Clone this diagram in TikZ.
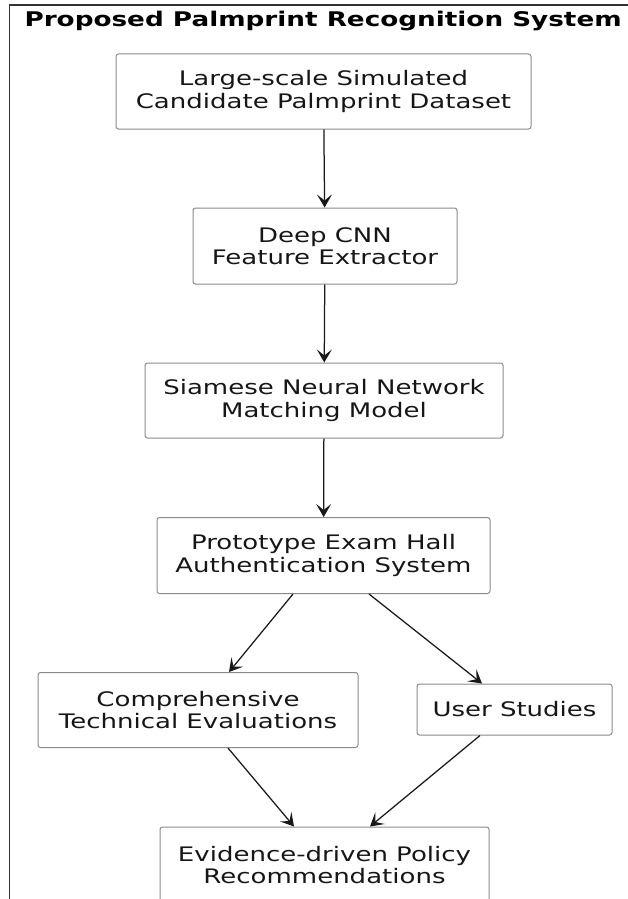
\documentclass[tikz,border=0pt]{standalone}
\usepackage{fontspec}
\setmainfont{DejaVu Sans}[FakeStretch=1.3]
\usetikzlibrary{arrows.meta}
\definecolor{boxgray}{HTML}{8A8A8A}
\definecolor{inkgray}{HTML}{161616}
\begin{document}
\begin{tikzpicture}[x=1pt,y=-1pt,
  every node/.style={font=\fontsize{20}{22.5}\selectfont,text=inkgray},
  stage/.style={draw=boxgray,line width=1pt,rounded corners=2.5pt,align=center,inner sep=0pt},
  flow/.style={-{Stealth[length=13pt,width=15pt,inset=6pt]},line width=1.25pt,black!90}]
\clip (0,0) rectangle (628,899);
\draw[line width=1.4pt,draw=black!80] (9.5,5) rectangle (660,940);
\node[anchor=base west,font=\fontsize{20.2}{24}\selectfont\bfseries,text=black] (title) at (21,27) {Proposed Palmprint Recognition System};
\node[stage,minimum width=415pt,minimum height=75pt] (data) at (323.5,91.5) {Large-scale Simulated\\Candidate Palmprint Dataset};
\node[stage,minimum width=264pt,minimum height=76pt] (cnn) at (325,246) {Deep CNN\\Feature Extractor};
\node[stage,minimum width=358pt,minimum height=75pt] (siam) at (324,400.5) {Siamese Neural Network\\Matching Model};
\node[stage,minimum width=333pt,minimum height=76pt] (proto) at (323.5,555.5) {Prototype Exam Hall\\Authentication System};
\node[stage,minimum width=320pt,minimum height=75pt] (evalu) at (198,710) {Comprehensive\\Technical Evaluations};
\node[stage,minimum width=195pt,minimum height=51pt] (user) at (514.5,709.5) {User Studies};
\node[stage,minimum width=329pt,minimum height=76pt] (policy) at (324.5,865) {Evidence-driven Policy\\Recommendations};
\draw[flow] (data) -- (cnn);
\draw[flow] (cnn) -- (siam);
\draw[flow] (siam) -- (proto);
\draw[flow] ([xshift=-30.5pt]proto.south) -- ([xshift=31pt]evalu.north);
\draw[flow] ([xshift=45.5pt]proto.south) -- ([xshift=-32.5pt]user.north);
\draw[flow] ([xshift=30pt]evalu.south) -- ([xshift=-30.5pt]policy.north);
\draw[flow] ([xshift=-34.5pt]user.south) -- ([xshift=45.5pt]policy.north);
\end{tikzpicture}
\end{document}
